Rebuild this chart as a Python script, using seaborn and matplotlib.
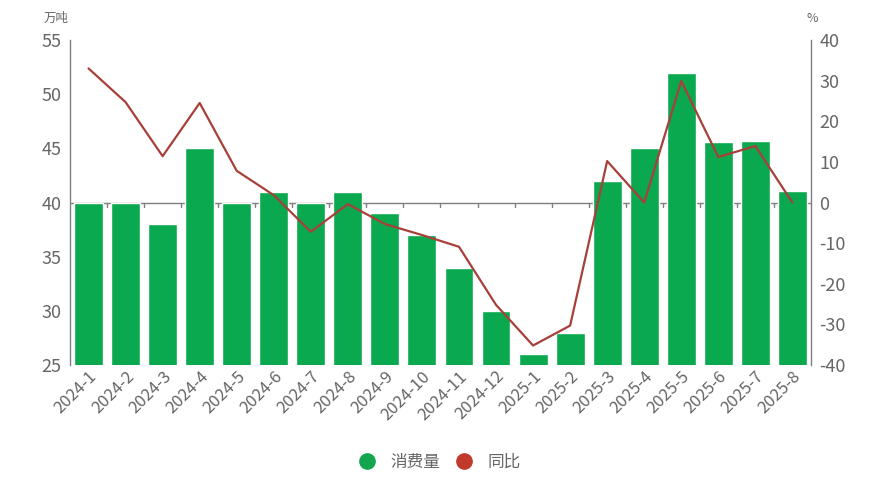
import matplotlib
matplotlib.use("Agg")
import matplotlib.pyplot as plt
import seaborn as sns
import pandas as pd
from matplotlib.lines import Line2D

categories = ["2024-1", "2024-2", "2024-3", "2024-4", "2024-5", "2024-6", "2024-7",
              "2024-8", "2024-9", "2024-10", "2024-11", "2024-12", "2025-1", "2025-2",
              "2025-3", "2025-4", "2025-5", "2025-6", "2025-7", "2025-8"]
consumption = [40, 40, 38, 45, 40, 41, 40, 41, 39, 37, 34, 30, 26, 28, 42, 45, 52, 45.6, 45.7, 41.1]
yoy = [33.0, 24.7, 11.4, 24.5, 7.8, 1.8, -7.2, -0.4, -5.3, -8.0, -10.9, -25.2, -35.2, -30.3,
       10.2, 0.0, 29.9, 11.2, 13.9, 0.0]
left_ticks = [25, 30, 35, 40, 45, 50, 55]
right_ticks = [-40, -30, -20, -10, 0, 10, 20, 30, 40]

sns.set_theme(style="white")
plt.rcParams['font.family'] = ['Noto Sans CJK SC', 'DejaVu Sans']
plt.rcParams['axes.unicode_minus'] = False

df = pd.DataFrame({"month": categories, "consumption": consumption, "yoy": yoy})

GREEN = "#0aa84f"
RED = "#a8403a"
GRAY = "#666666"
AX = "#7f7f7f"

fig = plt.figure(figsize=(8.71, 4.78), dpi=100)
ax1 = fig.add_axes([0.0804, 0.2364, 0.931 - 0.0804, 0.9163 - 0.2364])
sns.barplot(data=df, x="month", y="consumption", color=GREEN, saturation=1,
            width=0.78, ax=ax1, zorder=2)
ax1.set_ylim(25, 55)
ax1.set_xlim(-0.5, len(categories) - 0.5)
ax1.set_yticks(left_ticks)
ax1.set_xlabel("")
ax1.set_ylabel("")
for s in ["top", "right", "bottom"]:
    ax1.spines[s].set_visible(False)
ax1.spines["left"].set_color(AX)
ax1.spines["left"].set_linewidth(1.0)
ax1.tick_params(axis="y", colors=GRAY, labelsize=13, length=0, pad=6)
ax1.tick_params(axis="x", colors=GRAY, labelsize=12, length=0, pad=2)
for lab in ax1.get_xticklabels():
    lab.set_rotation(45)
    lab.set_ha("right")
    lab.set_rotation_mode("anchor")

# category axis line crossing at 0% (right) / 40 (left), behind the bars
ax1.axhline(40, color=AX, lw=1.0, zorder=1)
for i in range(len(categories) - 1):
    ax1.plot([i + 0.5, i + 0.5], [40, 39.6], color=AX, lw=1.0, zorder=1)

ax2 = ax1.twinx()
sns.lineplot(x=list(range(len(categories))), y=yoy, color=RED, lw=1.6, ax=ax2)
ax2.set_ylim(-40, 40)
ax2.set_yticks(right_ticks)
for s in ["top", "left", "bottom"]:
    ax2.spines[s].set_visible(False)
ax2.spines["right"].set_color(AX)
ax2.spines["right"].set_linewidth(1.0)
ax2.tick_params(axis="y", colors=GRAY, labelsize=13, length=0, pad=6)
ax2.set_xlim(-0.5, len(categories) - 0.5)

fig.text(0.064, 0.962, "万吨", fontsize=9, color=GRAY, ha="center", va="center")
fig.text(0.932, 0.962, "%", fontsize=9, color=GRAY, ha="center", va="center")

handles = [Line2D([], [], marker="o", ls="", markersize=11, color="#13a64e", label="消费量"),
           Line2D([], [], marker="o", ls="", markersize=11, color="#c0392b", label="同比")]
fig.legend(handles=handles, loc="center", bbox_to_anchor=(0.5, 0.033), ncol=2,
           frameon=False, fontsize=12, handletextpad=0.4, columnspacing=0.4,
           labelcolor=GRAY)

fig.savefig("out.png", dpi=100, facecolor="white")
